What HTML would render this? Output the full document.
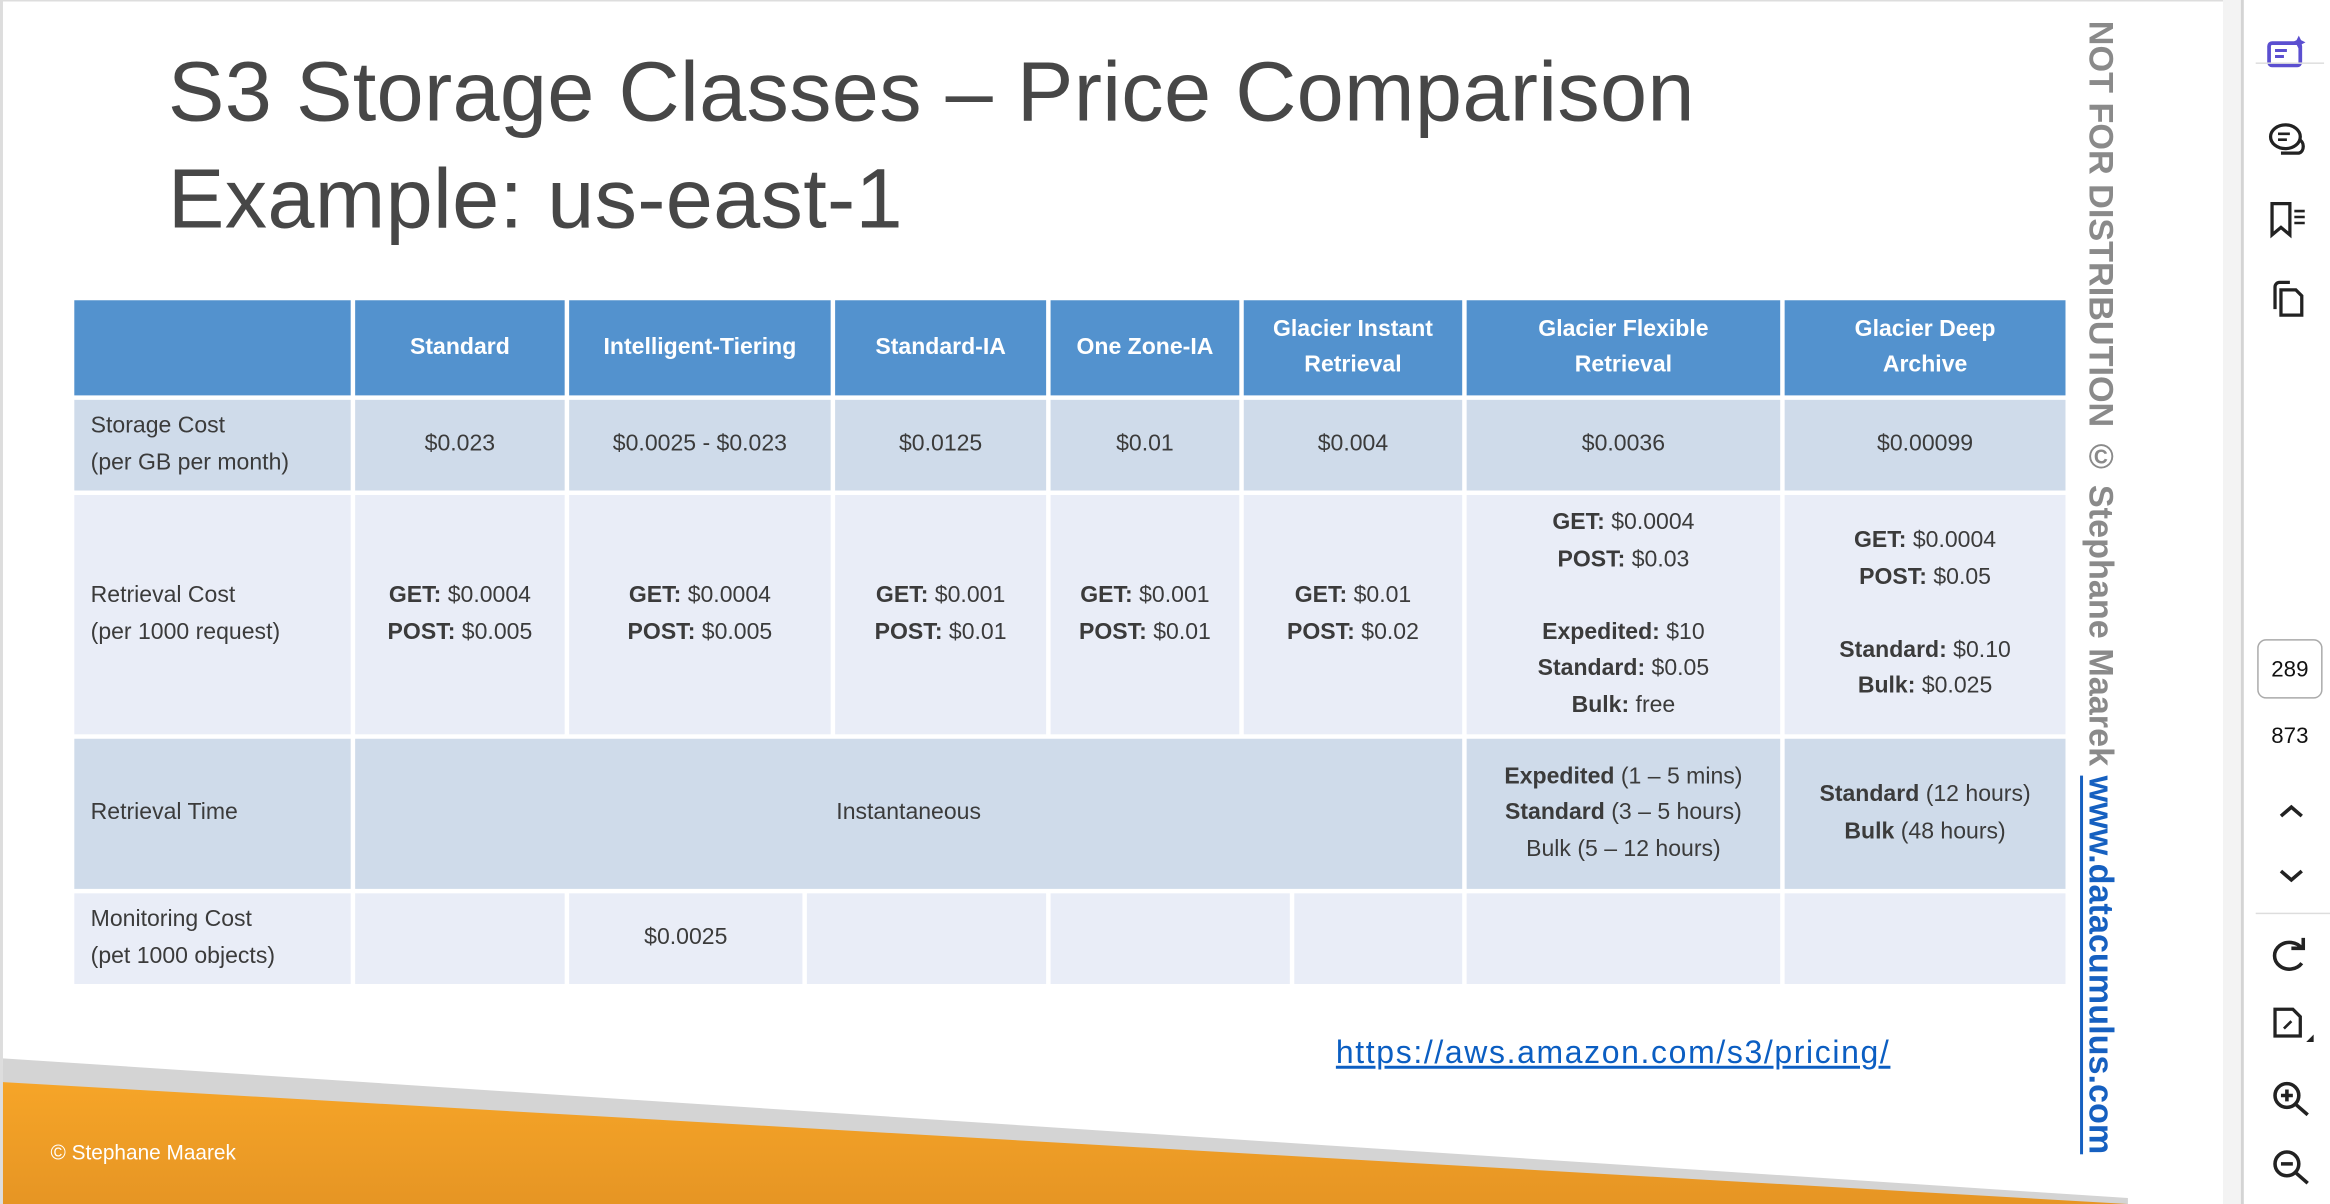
<!DOCTYPE html>
<html><head><meta charset="utf-8"><style>
*{margin:0;padding:0;box-sizing:border-box}
html,body{width:2330px;height:1204px;overflow:hidden;background:#fff}
#w{position:absolute;left:0;top:0;width:1568px;height:810px;transform:scale(1.48597,1.48642);transform-origin:0 0;font-family:"Liberation Sans",sans-serif}
.a{position:absolute}
.c{position:absolute;display:flex;align-items:center;justify-content:center;text-align:center;color:#3b3b3b;font-size:15.5px;line-height:24.5px}
.h{background:#5392ce;color:#fff;font-weight:bold}
.r1{background:#cfdbea}.r2{background:#e9edf7}
.l{justify-content:flex-start;text-align:left;padding-left:11px}
b{font-weight:bold}
</style></head><body>
<div id="w">
<div class="a" style="left:0;top:0;width:1496px;height:810px;background:#fff;border-left:2px solid #ddd;border-top:1px solid #ddd"></div>
<div class="a" style="left:1496px;top:0;width:12px;height:810px;background:#f3f3f3"></div>
<div class="a" style="left:1508px;top:0;width:2px;height:810px;background:#d4d4d4"></div>
<svg class="a" style="left:0;top:0" width="1500" height="810">
<defs><linearGradient id="g" x1="0" y1="0" x2="0" y2="1"><stop offset="0" stop-color="#f6a528"/><stop offset="1" stop-color="#e69524"/></linearGradient></defs>
<polygon points="2,712 1432,806 1432,810 2,810" fill="#d4d4d4"/>
<polygon points="2,728 1432,810 2,810" fill="url(#g)"/>
</svg>
<div class="a" style="left:34px;top:767px;color:#fff;font-size:14px">© Stephane Maarek</div>
<div class="a" style="left:113px;top:26px;font-size:57px;line-height:72px;color:#474747;letter-spacing:0.2px">S3 Storage Classes – Price Comparison<br>Example: us-east-1</div>

<div>
<div class="c h" style="left:50px;top:202px;width:186px;height:64px"></div>
<div class="c h" style="left:239px;top:202px;width:141px;height:64px">Standard</div>
<div class="c h" style="left:383px;top:202px;width:176px;height:64px">Intelligent-Tiering</div>
<div class="c h" style="left:562px;top:202px;width:142px;height:64px">Standard-IA</div>
<div class="c h" style="left:707px;top:202px;width:127px;height:64px">One Zone-IA</div>
<div class="c h" style="left:837px;top:202px;width:147px;height:64px">Glacier Instant<br>Retrieval</div>
<div class="c h" style="left:987px;top:202px;width:211px;height:64px">Glacier Flexible<br>Retrieval</div>
<div class="c h" style="left:1201px;top:202px;width:189px;height:64px">Glacier Deep<br>Archive</div>

<div class="c r1 l" style="left:50px;top:269px;width:186px;height:61px">Storage Cost<br>(per GB per month)</div>
<div class="c r1" style="left:239px;top:269px;width:141px;height:61px">$0.023</div>
<div class="c r1" style="left:383px;top:269px;width:176px;height:61px">$0.0025 - $0.023</div>
<div class="c r1" style="left:562px;top:269px;width:142px;height:61px">$0.0125</div>
<div class="c r1" style="left:707px;top:269px;width:127px;height:61px">$0.01</div>
<div class="c r1" style="left:837px;top:269px;width:147px;height:61px">$0.004</div>
<div class="c r1" style="left:987px;top:269px;width:211px;height:61px">$0.0036</div>
<div class="c r1" style="left:1201px;top:269px;width:189px;height:61px">$0.00099</div>

<div class="c r2 l" style="left:50px;top:333px;width:186px;height:161px">Retrieval Cost<br>(per 1000 request)</div>
<div class="c r2" style="left:239px;top:333px;width:141px;height:161px"><div><b>GET:</b> $0.0004<br><b>POST:</b> $0.005</div></div>
<div class="c r2" style="left:383px;top:333px;width:176px;height:161px"><div><b>GET:</b> $0.0004<br><b>POST:</b> $0.005</div></div>
<div class="c r2" style="left:562px;top:333px;width:142px;height:161px"><div><b>GET:</b> $0.001<br><b>POST:</b> $0.01</div></div>
<div class="c r2" style="left:707px;top:333px;width:127px;height:161px"><div><b>GET:</b> $0.001<br><b>POST:</b> $0.01</div></div>
<div class="c r2" style="left:837px;top:333px;width:147px;height:161px"><div><b>GET:</b> $0.01<br><b>POST:</b> $0.02</div></div>
<div class="c r2" style="left:987px;top:333px;width:211px;height:161px"><div><b>GET:</b> $0.0004<br><b>POST:</b> $0.03<br><br><b>Expedited:</b> $10<br><b>Standard:</b> $0.05<br><b>Bulk:</b> free</div></div>
<div class="c r2" style="left:1201px;top:333px;width:189px;height:161px"><div><b>GET:</b> $0.0004<br><b>POST:</b> $0.05<br><br><b>Standard:</b> $0.10<br><b>Bulk:</b> $0.025</div></div>

<div class="c r1 l" style="left:50px;top:497px;width:186px;height:101px">Retrieval Time</div>
<div class="c r1" style="left:239px;top:497px;width:745px;height:101px">Instantaneous</div>
<div class="c r1" style="left:987px;top:497px;width:211px;height:101px"><div><b>Expedited</b> (1 – 5 mins)<br><b>Standard</b> (3 – 5 hours)<br>Bulk (5 – 12 hours)</div></div>
<div class="c r1" style="left:1201px;top:497px;width:189px;height:101px"><div><b>Standard</b> (12 hours)<br><b>Bulk</b> (48 hours)</div></div>

<div class="c r2 l" style="left:50px;top:601px;width:186px;height:61px">Monitoring Cost<br>(pet 1000 objects)</div>
<div class="c r2" style="left:239px;top:601px;width:141px;height:61px"></div>
<div class="c r2" style="left:383px;top:601px;width:157px;height:61px">$0.0025</div>
<div class="c r2" style="left:543px;top:601px;width:161px;height:61px"></div>
<div class="c r2" style="left:707px;top:601px;width:161px;height:61px"></div>
<div class="c r2" style="left:871px;top:601px;width:113px;height:61px"></div>
<div class="c r2" style="left:987px;top:601px;width:211px;height:61px"></div>
<div class="c r2" style="left:1201px;top:601px;width:189px;height:61px"></div>
</div>

<div class="a" style="left:899px;top:696px;font-size:21.5px;letter-spacing:1.1px;color:#0b5ec2;text-decoration:underline">https://aws.amazon.com/s3/pricing/</div>

<div class="a" style="left:1400px;top:14px;writing-mode:vertical-rl;font-size:23px;font-weight:bold;line-height:28px;white-space:nowrap"><span style="color:#8a8a8a">NOT FOR DISTRIBUTION © Stephane Maarek </span><span style="color:#1660c0;text-decoration:underline">www.datacumulus.com</span></div>

<div>
<svg class="a" style="left:1524px;top:22px" width="32" height="30"><rect x="3" y="7" width="21" height="15" rx="2" fill="none" stroke="#5b4fd0" stroke-width="2.5"/><path d="M7 12h8M7 16h6" stroke="#5b4fd0" stroke-width="2"/><path d="M23 2l1.5 3 3 1.5-3 1.5-1.5 3-1.5-3-3-1.5 3-1.5z" fill="#5b4fd0"/></svg>
<div class="a" style="left:1518px;top:42px;width:46px;height:1px;background:#ddd"></div>
<svg class="a" style="left:1526px;top:80px" width="30" height="28"><ellipse cx="12" cy="12" rx="10" ry="8" fill="none" stroke="#222" stroke-width="2.2"/><path d="M7 10h8M7 14h6" stroke="#222" stroke-width="1.8"/><path d="M21 14c4 1 4 8 0 9H9" fill="none" stroke="#222" stroke-width="2.2"/></svg>
<svg class="a" style="left:1526px;top:134px" width="30" height="28"><path d="M3 3h12v21l-6-5-6 5z" fill="none" stroke="#222" stroke-width="2.2"/><path d="M18 8h7M18 12h7M18 16h7" stroke="#222" stroke-width="1.7"/></svg>
<svg class="a" style="left:1526px;top:186px" width="30" height="30"><path d="M5 22V7a3 3 0 0 1 3-3h7" fill="none" stroke="#222" stroke-width="2.2"/><path d="M9 9h10l4 4v13H9z" fill="none" stroke="#222" stroke-width="2.2"/></svg>
<div class="a" style="left:1519px;top:430px;width:44px;height:40px;border:1.5px solid #aaa;border-radius:6px;font-size:15px;display:flex;align-items:center;justify-content:center;color:#111">289</div>
<div class="a" style="left:1519px;top:487px;width:44px;text-align:center;font-size:15px;color:#111">873</div>
<svg class="a" style="left:1532px;top:538px" width="20" height="14"><path d="M3 11l7-6 7 6" fill="none" stroke="#222" stroke-width="2.4"/></svg>
<svg class="a" style="left:1532px;top:582px" width="20" height="14"><path d="M3 4l7 6 7-6" fill="none" stroke="#222" stroke-width="2.4"/></svg>
<div class="a" style="left:1518px;top:614px;width:50px;height:1px;background:#ddd"></div>
<svg class="a" style="left:1527px;top:628px" width="30" height="30"><path d="M22 10A10 9 0 1 0 22 20" fill="none" stroke="#222" stroke-width="2.4"/><path d="M15 10h8V3" fill="none" stroke="#222" stroke-width="2.4"/></svg>
<svg class="a" style="left:1527px;top:675px" width="34" height="34"><path d="M4 4h12l5 5v13H4z" fill="none" stroke="#222" stroke-width="2.2"/><path d="M10 17l5-5" stroke="#222" stroke-width="1.8"/><path d="M25 26l5 0 0-5z" fill="#222"/></svg>
<svg class="a" style="left:1527px;top:725px" width="32" height="30"><circle cx="12" cy="12" r="8" fill="none" stroke="#222" stroke-width="2.4"/><path d="M18 18l8 7M8 12h8M12 8v8" stroke="#222" stroke-width="2.4"/></svg>
<svg class="a" style="left:1527px;top:771px" width="32" height="30"><circle cx="12" cy="12" r="8" fill="none" stroke="#222" stroke-width="2.4"/><path d="M18 18l8 7M8 12h8" stroke="#222" stroke-width="2.4"/></svg>
</div>
</div>
</body></html>
